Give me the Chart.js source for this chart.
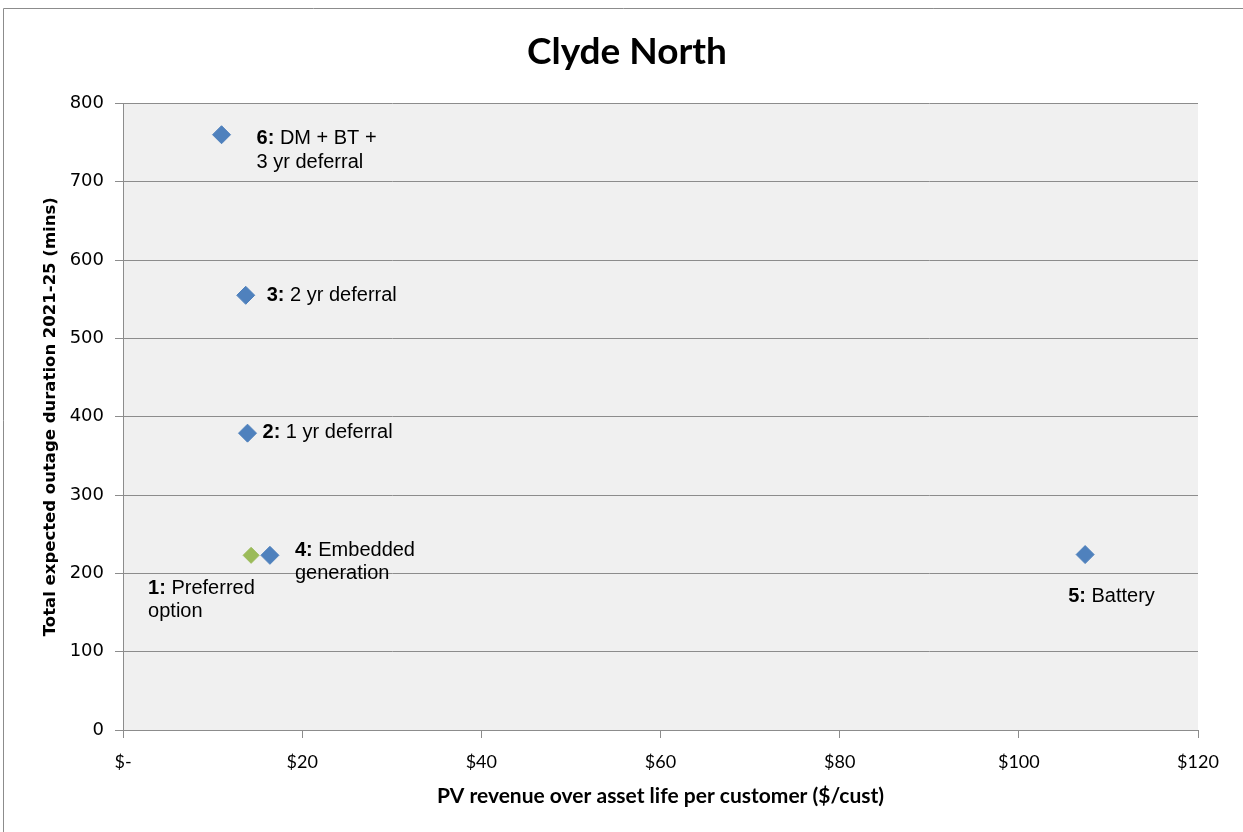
<!DOCTYPE html>
<html lang="en">
<head>
    <meta charset="UTF-8">
    <title>Clyde North</title>
    <script src="https://cdn.jsdelivr.net/npm/chart.js"></script>
    <style>
        body { margin: 0; background: #fff; }
    </style>
</head>
<body>
    <canvas id="myChart" width="1243" height="832"></canvas>

    <script>
        // option data
        var optionNums = ['1', '2', '3', '4', '5', '6'];
        var optionNames = ['Preferred\noption', '1 yr deferral', '2 yr deferral', 'Embedded\ngeneration', 'Battery', 'DM + BT +\n3 yr deferral'];
        var revenuePerCust = [14.3, 13.9, 13.7, 16.4, 107.4, 11.0];
        var outageMins = [223, 379, 555, 223, 224, 760];
        var xTicks = [0, 20, 40, 60, 80, 100, 120];

        // label placement relative to each marker (px)
        var labelDx = [-103, 15, 21, 25, -17, 35];
        var labelDy = [33, -1, 0, -5, 42, 4];

        var blue = '#4f81bd';
        var green = '#9bbb59';

        var plotBg = {
            id: 'plotBg',
            beforeDraw: function(chart) {
                var a = chart.chartArea;
                var c = chart.ctx;
                c.save();
                c.fillStyle = '#f0f0f0';
                c.fillRect(a.left, a.top, a.right - a.left, a.bottom - a.top);
                // outer frame
                c.strokeStyle = '#8c8c8c';
                c.lineWidth = 1;
                c.beginPath();
                c.moveTo(3.5, 840);
                c.lineTo(3.5, 8.5);
                c.lineTo(1250, 8.5);
                c.stroke();
                c.restore();
            }
        };

        var pointLabels = {
            id: 'pointLabels',
            afterDatasetsDraw: function(chart) {
                var c = chart.ctx;
                var pts = chart.getDatasetMeta(0).data;
                c.save();
                c.fillStyle = '#000';
                c.textBaseline = 'middle';
                c.textAlign = 'left';
                for (var i = 0; i < pts.length; i++) {
                    var x = pts[i].x + labelDx[i];
                    var y = pts[i].y + labelDy[i];
                    var lines = optionNames[i].split('\n');
                    for (var j = 0; j < lines.length; j++) {
                        var tx = x;
                        if (j === 0) {
                            c.font = 'bold 20px "Liberation Sans", Arial, sans-serif';
                            var lead = optionNums[i] + ': ';
                            c.fillText(lead, tx, y);
                            tx += c.measureText(lead).width;
                        }
                        c.font = '20px "Liberation Sans", Arial, sans-serif';
                        c.fillText(lines[j], tx, y + j * 23.5);
                    }
                }
                c.restore();
            }
        };

        var points = revenuePerCust.map(function(v, i) {
            return { x: v, y: outageMins[i] };
        });

        var ctx = document.getElementById('myChart').getContext('2d');
        var myChart = new Chart(ctx, {
            type: 'scatter',
            data: {
                datasets: [{
                    label: 'Options',
                    data: points,
                    pointStyle: 'rectRot',
                    pointRadius: [8, 9, 9, 9, 9, 9],
                    pointBackgroundColor: [green, blue, blue, blue, blue, blue],
                    pointBorderColor: [green, blue, blue, blue, blue, blue],
                    pointBorderWidth: 1
                }]
            },
            options: {
                responsive: false,
                animation: false,
                layout: { padding: { left: 56, right: 45, top: 0, bottom: 0 } },
                plugins: {
                    legend: { display: false },
                    tooltip: { enabled: false },
                    title: {
                        display: true,
                        text: 'Clyde North',
                        color: '#000',
                        font: { family: 'Lato, "Open Sans", sans-serif', size: 37, weight: 'bold' },
                        padding: { top: 30, bottom: 29 }
                    }
                },
                scales: {
                    x: {
                        type: 'linear',
                        min: 0,
                        max: 120,
                        afterBuildTicks: function(scale) {
                            scale.ticks = xTicks.map(function(v) { return { value: v }; });
                        },
                        afterFit: function(scale) { scale.height = 102; },
                        ticks: {
                            color: '#000',
                            font: { family: 'Lato, sans-serif', size: 18 },
                            padding: 13,
                            callback: function(v) { return v === 0 ? '$-' : '$' + v; }
                        },
                        grid: { drawOnChartArea: false, drawTicks: true, tickLength: 8, color: '#8c8c8c' },
                        border: { display: true, color: '#8c8c8c' },
                        title: {
                            display: true,
                            text: 'PV revenue over asset life per customer ($/cust)',
                            color: '#000',
                            font: { family: 'Lato, sans-serif', size: 21, weight: 'bold' },
                            padding: { top: 0, bottom: 23 }
                        }
                    },
                    y: {
                        min: 0,
                        max: 800,
                        afterFit: function(scale) { scale.width = 67; },
                        ticks: {
                            stepSize: 100,
                            color: '#000',
                            font: { family: '"DejaVu Sans", sans-serif', size: 18 },
                            padding: 11
                        },
                        grid: { color: '#8c8c8c', tickLength: 8 },
                        border: { display: true, color: '#8c8c8c' },
                        title: {
                            display: true,
                            text: 'Total expected outage duration 2021-25 (mins)',
                            color: '#000',
                            font: { family: '"DejaVu Sans", sans-serif', size: 16.5, weight: 'bold' },
                            padding: { top: -15, bottom: 0 }
                        }
                    }
                }
            },
            plugins: [plotBg, pointLabels]
        });
    </script>
</body>
</html>
